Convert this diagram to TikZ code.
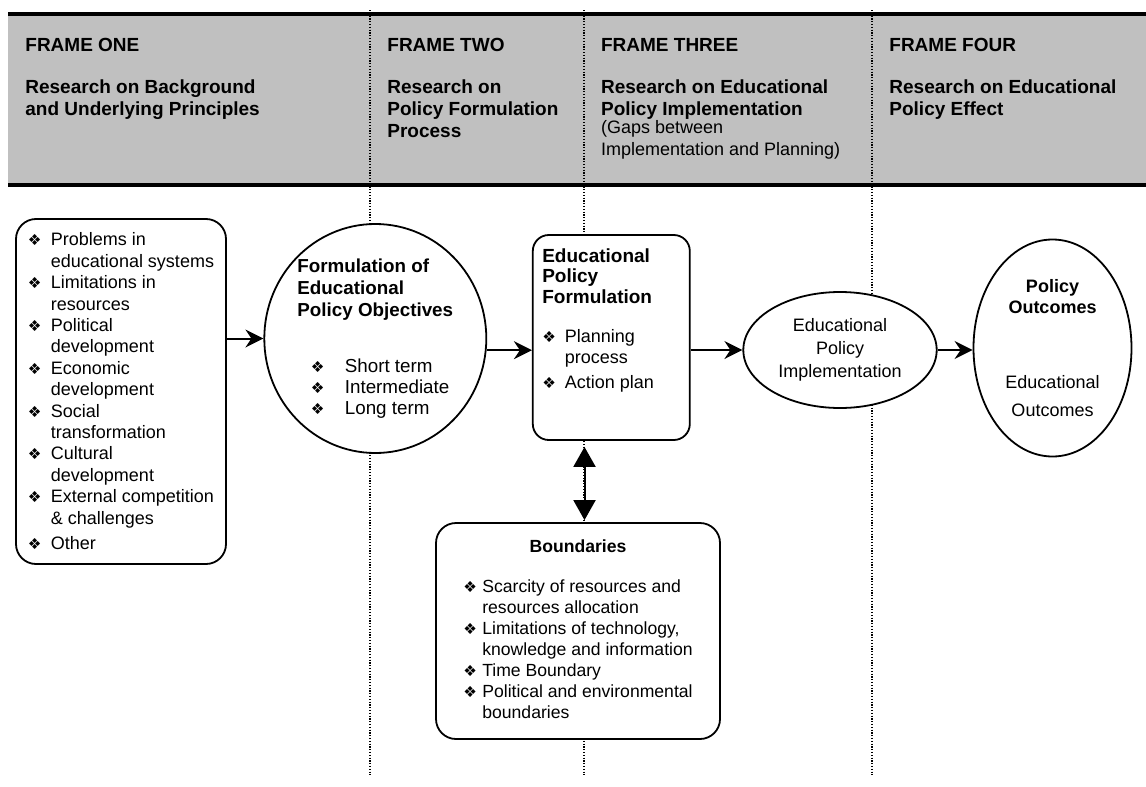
\documentclass[tikz,border=0pt]{standalone}
\usepackage{fontspec}
\setmainfont{Liberation Sans}
\newfontfamily\symb{DejaVu Sans}
\usetikzlibrary{shapes.geometric,arrows.meta}

\definecolor{gris}{HTML}{C0C0C0}
\newcommand{\puce}{{\symb\fontsize{7.6}{7.6}\selectfont ❖}}
\newcommand{\elt}[2][11.5pt]{\makebox[#1][l]{\puce}#2}
\newcommand{\cont}[2][11.5pt]{\hspace*{#1}#2}
\newcommand{\petit}{\mdseries\fontsize{9}{11}\selectfont}

\tikzset{
    boite/.style={draw, line width=0.9pt, rounded corners=10pt, fill=white, inner sep=0pt},
    bulle/.style={draw, ellipse, line width=0.9pt, fill=white, inner sep=0pt},
    fleche/.style={-{Stealth[length=9pt,width=9pt,inset=3pt]}, line width=1pt},
    flechedouble/.style={{Triangle[length=10pt,width=11pt]}-{Triangle[length=10pt,width=11pt]}, line width=1pt},
    pointille/.style={line width=0.6pt, dash pattern=on 0.6pt off 0.8pt},
    entete/.style={anchor=base west, inner sep=0pt, font=\fontsize{9.5}{11}\selectfont\bfseries},
}

\begin{document}
\begin{tikzpicture}[x=0.5pt,y=-0.5pt]
    % Cadre de la figure
    \useasboundingbox (0,0) rectangle (1146,787);
    % Bandeau gris des quatre cadres
    \fill[gris] (8,14) rectangle (1146,185);
    \draw[line width=2pt] (8,14) -- (1146,14);
    \draw[line width=2pt] (8,185) -- (1146,185);
    % Separations en pointilles
    \foreach \x in {370,584,872} {
        \draw[pointille] (\x,10) -- (\x,775);}
    % Titres des cadres
    \node[entete] (cadreun) at (25,51) {\begin{tabular}[t]{@{}l@{}}FRAME ONE\\[10.4pt] Research on Background\\ and Underlying Principles\end{tabular}};
    \node[entete] (cadredeux) at (387,51) {\begin{tabular}[t]{@{}l@{}}FRAME TWO\\[10.4pt] Research on\\ Policy Formulation\\ Process\end{tabular}};
    \node[entete] (cadretrois) at (600.7,51) {\begin{tabular}[t]{@{}l@{}}FRAME THREE\\[10.4pt] Research on Educational\\ Policy Implementation\\[-2pt] \petit (Gaps between\\ \petit Implementation and Planning)\end{tabular}};
    \node[entete] (cadrequatre) at (889,51) {\begin{tabular}[t]{@{}l@{}}FRAME FOUR\\[10.4pt] Research on Educational\\ Policy Effect\end{tabular}};
    % Contexte
    \node[boite, minimum width=105pt, minimum height=172.5pt, align=left, font=\fontsize{9}{10.7}\selectfont] (gauche) at (121,391.5)
        {\elt{Problems in}\\ \cont{educational systems}\\ \elt{Limitations in}\\ \cont{resources}\\ \elt{Political}\\ \cont{development}\\ \elt{Economic}\\ \cont{development}\\ \elt{Social}\\ \cont{transformation}\\ \elt{Cultural}\\ \cont{development}\\ \elt{External competition}\\ \cont{\& challenges}\\[2.2pt] \elt{Other}};
    % Objectifs
    \node[bulle, minimum width=111pt, minimum height=114.5pt, align=left, font=\fontsize{9.4}{11}\selectfont] (cercle) at (375.3,338.5)
        {\textbf{Formulation of}\\ \textbf{Educational}\\ \textbf{Policy Objectives}\\[16.8pt] \hspace*{6.7pt}\elt[17pt]{Short term}\\[-0.5pt] \hspace*{6.7pt}\elt[17pt]{Intermediate}\\[-0.5pt] \hspace*{6.7pt}\elt[17pt]{Long term}};
    % Formulation
    \node[boite, rounded corners=8pt, inner xsep=4.75pt, inner ysep=0pt] (form) at (611.3,337.5)
        {\parbox[c][102.5pt][t]{69pt}{\raggedright\fontsize{9.5}{10.4}\selectfont\bfseries
        \rule{0pt}{13.5pt}Educational\\ Policy\\ Formulation\par
        \vspace{8.4pt}\mdseries\fontsize{9}{10.8}\selectfont
        \elt[11.3pt]{Planning}\\ \cont[11.3pt]{process}\\[1.4pt] \elt[11.3pt]{Action plan}}};
    % Mise en oeuvre
    \node[bulle, minimum width=96.7pt, minimum height=58pt, align=center, font=\fontsize{9}{11.4}\selectfont] (impl) at (840,350)
        {Educational\\ Policy\\ Implementation};
    % Resultats
    \node[bulle, minimum width=79pt, minimum height=108.5pt, align=center, font=\fontsize{9}{10.5}\selectfont] (res) at (1052.5,348)
        {\textbf{Policy}\\ \textbf{Outcomes}\\[27.3pt] Educational\\[3.6pt] Outcomes};
    % Contraintes
    \node[boite, minimum width=142pt, minimum height=108pt, font=\fontsize{8.8}{10.5}\selectfont] (bornes) at (578,631)
        {\begin{tabular}{@{}l@{}}\multicolumn{1}{@{}c@{}}{\textbf{Boundaries}}\\[9.5pt]
        \elt[9.5pt]{Scarcity of resources and}\\ \cont[9.5pt]{resources allocation}\\
        \elt[9.5pt]{Limitations of technology,}\\ \cont[9.5pt]{knowledge and information}\\
        \elt[9.5pt]{Time Boundary}\\ \elt[9.5pt]{Political and environmental}\\ \cont[9.5pt]{boundaries}\end{tabular}};
    % Fleches
    \draw[fleche] (gauche.east |- cercle.west) -- (cercle.west);
    \draw[fleche] (cercle.-6) -- (cercle.-6 -| form.west);
    \draw[fleche] (form.east |- impl.west) -- (impl.west);
    \draw[fleche] (impl.east) -- (impl.east -| res.west);
    \coordinate (axe) at (584.5,0);
    \draw[flechedouble, shorten <=3pt, shorten >=1pt] (form.south -| axe) -- (bornes.north -| axe);
\end{tikzpicture}
\end{document}
